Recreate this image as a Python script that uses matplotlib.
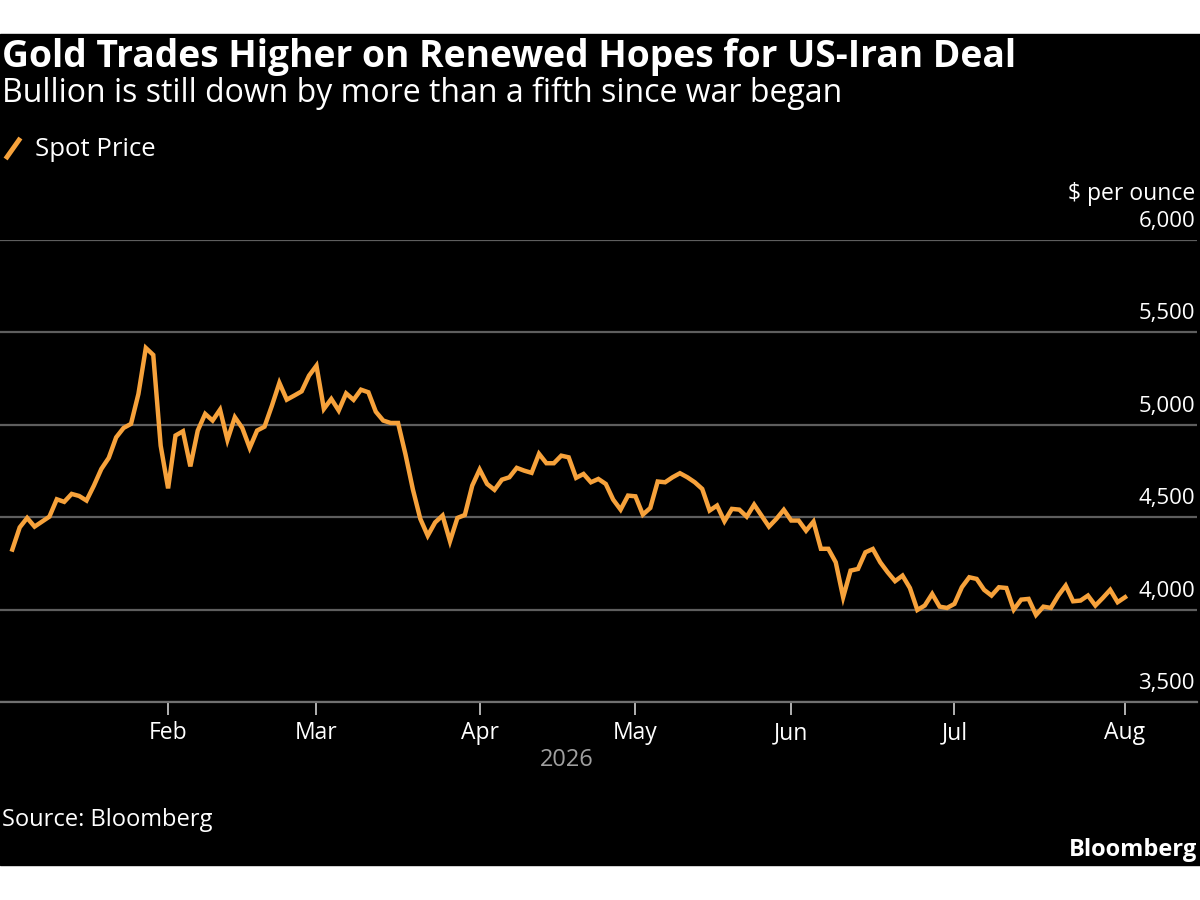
import matplotlib.pyplot as plt
import matplotlib.transforms as mtransforms
from matplotlib.patches import Rectangle
from matplotlib.lines import Line2D
import pandas as pd

# trading days, Jan 2 - Aug 3 2026 (Good Friday off)
dates = pd.bdate_range('2026-01-02', '2026-08-03')
dates = dates[dates != pd.Timestamp('2026-04-03')]

spot = [
    4325, 4445, 4496, 4449, 4476, 4503, 4597, 4583, 4626, 4615,
    4590, 4671, 4761, 4821, 4932, 4983, 5005, 5167, 5416, 5378,
    4887, 4656, 4942, 4965, 4775, 4969, 5059, 5023, 5082, 4918,
    5041, 4983, 4875, 4969, 4990, 5104, 5227, 5136, 5158, 5181,
    5266, 5320, 5086, 5140, 5077, 5170, 5135, 5190, 5176, 5071,
    5023, 5010, 5010, 4840, 4650, 4491, 4400, 4472, 4509, 4370,
    4496, 4512, 4671, 4758, 4680, 4648, 4703, 4716, 4767, 4752,
    4740, 4843, 4792, 4792, 4833, 4824, 4713, 4734, 4689, 4707,
    4680, 4595, 4541, 4617, 4613, 4514, 4550, 4693, 4689, 4716,
    4738, 4716, 4689, 4653, 4536, 4563, 4478, 4545, 4541, 4503,
    4568, 4509, 4449, 4491, 4540, 4482, 4482, 4427, 4476, 4329,
    4329, 4256, 4067, 4211, 4220, 4310, 4328, 4256, 4202, 4154,
    4184, 4117, 3998, 4022, 4085, 4016, 4009, 4031, 4121, 4175,
    4166, 4107, 4076, 4121, 4117, 4000, 4054, 4058, 3971, 4016,
    4009, 4076, 4130, 4045, 4049, 4076, 4022, 4063, 4107, 4040,
    4067,
]
yticks = [3500, 4000, 4500, 5000, 5500, 6000]
months = ['Feb', 'Mar', 'Apr', 'May', 'Jun', 'Jul', 'Aug']

orange = '#F7A23B'
font = 'Open Sans'

fig = plt.figure(figsize=(12, 9), dpi=100, facecolor='white')
fig.patches.append(Rectangle((0, 1 - 865 / 900), 1, (865 - 34) / 900,
                             transform=fig.transFigure, color='black', zorder=-10))

ax = fig.add_axes([0, 1 - 702 / 900, 1197 / 1200, (702 - 240) / 900])
ax.set_facecolor('none')
idx = list(range(len(dates)))
ax.plot(idx, spot[:len(idx)], color=orange, lw=3.2, solid_joinstyle='miter', zorder=3)

ax.set_xlim(-1.66, 159.7)
ax.set_ylim(3500, 6000)
ax.set_yticks(yticks)
ax.tick_params(axis='y', left=False, labelleft=False)
ax.grid(axis='y', color='#5e5e5e', lw=1.6)
ax.set_axisbelow(True)
for s in ['top', 'right', 'left']:
    ax.spines[s].set_visible(False)
ax.spines['bottom'].set_color('#707070')
ax.spines['bottom'].set_linewidth(1.6)

# month ticks at first trading day of each month
tick_idx = []
for m in range(2, 9):
    tick_idx.append(next(i for i, d in enumerate(dates) if d.month == m))
ax.set_xticks(tick_idx)
ax.set_xticklabels(months, fontfamily=font, fontsize=16.5, color='white')
ax.tick_params(axis='x', length=9, width=1.2, color='#d0d0d0', pad=5)

lab_trans = mtransforms.offset_copy(ax.get_yaxis_transform(), fig=fig, y=13, units='dots')
for v in yticks:
    ax.text(1195 / 1197, v, f'{v:,}', transform=lab_trans, ha='right', va='baseline',
            fontfamily=font, fontsize=16, color='white')

fig.text(1195 / 1200, 1 - 200 / 900, '$ per ounce', ha='right', va='baseline',
         fontfamily=font, fontsize=16.5, color='white')

fig.text(2 / 1200, 1 - 67 / 900, 'Gold Trades Higher on Renewed Hopes for US-Iran Deal',
         ha='left', va='baseline', fontfamily=font, fontweight='bold', fontsize=26.8, color='white')
fig.text(2 / 1200, 1 - 102 / 900, 'Bullion is still down by more than a fifth since war began',
         ha='left', va='baseline', fontfamily=font, fontsize=23, color='white')

fig.lines.append(Line2D([7 / 1200, 19 / 1200], [1 - 157 / 900, 1 - 140 / 900],
                        transform=fig.transFigure, color=orange, lw=3.5))
fig.text(35 / 1200, 1 - 156 / 900, 'Spot Price', ha='left', va='baseline',
         fontfamily=font, fontsize=18.5, color='white')

fig.text(567 / 1200, 1 - 760 / 900, '2026', ha='center', va='center',
         fontfamily=font, fontsize=17, color='#a0a0a0')
fig.text(2 / 1200, 1 - 826 / 900, 'Source: Bloomberg', ha='left', va='baseline',
         fontfamily=font, fontsize=17, color='white')
fig.text(1197 / 1200, 1 - 856 / 900, 'Bloomberg', ha='right', va='baseline',
         fontfamily=font, fontweight='bold', fontsize=17, color='white')

fig.savefig('out.png', dpi=100, facecolor='white')
